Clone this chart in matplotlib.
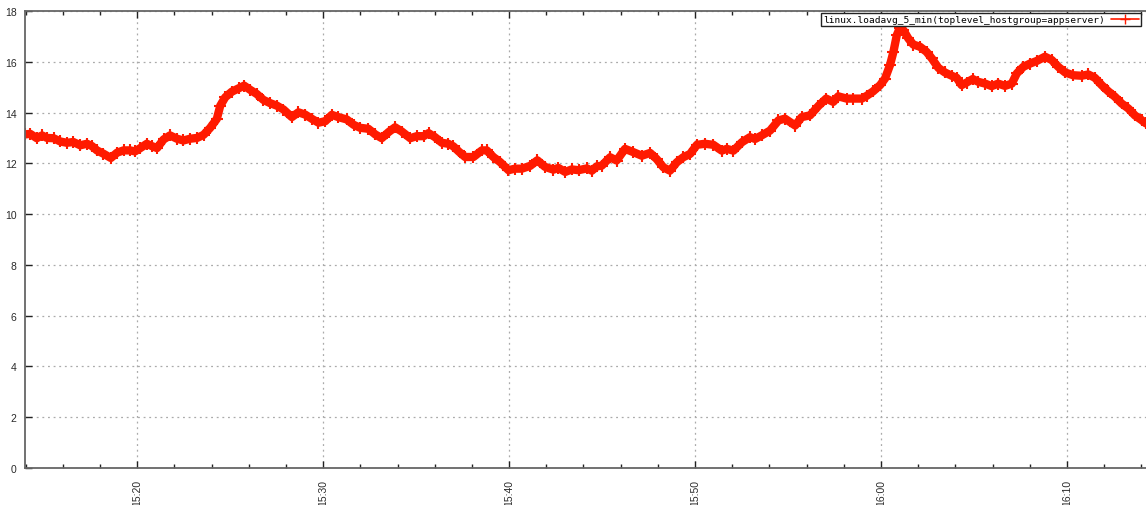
import pandas as pd
import matplotlib
matplotlib.use("Agg")
import matplotlib.pyplot as plt
import matplotlib.dates as mdates

# ---------------------------------
# Data: 5 minute load average, appserver hostgroup
# ---------------------------------

SERIES_NAME = "linux.loadavg_5_min(toplevel_hostgroup=appserver)"

times = [
    "15:13:58", "15:14:15", "15:14:36", "15:14:53", "15:15:09", "15:15:30", "15:15:52",
    "15:16:13", "15:16:34", "15:16:56", "15:17:18", "15:17:34", "15:17:50", "15:18:11",
    "15:18:35", "15:18:55", "15:19:16", "15:19:37", "15:19:53", "15:20:10", "15:20:31",
    "15:20:47", "15:21:04", "15:21:25", "15:21:46", "15:22:08", "15:22:29", "15:22:51",
    "15:23:13", "15:23:34", "15:23:55", "15:24:17", "15:24:28", "15:24:44", "15:25:05",
    "15:25:27", "15:25:45", "15:26:04", "15:26:26", "15:26:47", "15:27:09", "15:27:31",
    "15:27:52", "15:28:19", "15:28:40", "15:29:02", "15:29:24", "15:29:45", "15:30:07",
    "15:30:28", "15:30:49", "15:31:16", "15:31:38", "15:31:59", "15:32:26", "15:32:48",
    "15:33:09", "15:33:31", "15:33:52", "15:34:14", "15:34:41", "15:35:02", "15:35:24",
    "15:35:40", "15:36:01", "15:36:23", "15:36:44", "15:37:00", "15:37:17", "15:37:38",
    "15:38:05", "15:38:32", "15:38:48", "15:39:09", "15:39:31", "15:39:58", "15:40:19",
    "15:40:41", "15:41:08", "15:41:31", "15:41:56", "15:42:23", "15:42:39", "15:43:01",
    "15:43:22", "15:43:44", "15:44:11", "15:44:27", "15:44:43", "15:44:59", "15:45:26",
    "15:45:47", "15:46:14", "15:46:41", "15:47:08", "15:47:35", "15:47:56", "15:48:18",
    "15:48:39", "15:49:01", "15:49:22", "15:49:44", "15:50:06", "15:50:32", "15:50:59",
    "15:51:26", "15:51:42", "15:52:04", "15:52:31", "15:52:57", "15:53:14", "15:53:35",
    "15:54:02", "15:54:29", "15:54:50", "15:55:23", "15:55:44", "15:56:11", "15:56:38",
    "15:57:03", "15:57:26", "15:57:42", "15:58:09", "15:58:31", "15:58:58", "15:59:14",
    "15:59:35", "15:59:57", "16:00:13", "16:00:29", "16:00:40", "16:00:51", "16:01:01",
    "16:01:12", "16:01:28", "16:01:44", "16:02:06", "16:02:27", "16:02:44", "16:03:05",
    "16:03:26", "16:03:48", "16:04:04", "16:04:20", "16:04:36", "16:04:56", "16:05:14",
    "16:05:36", "16:05:57", "16:06:18", "16:06:40", "16:07:02", "16:07:18", "16:07:39",
    "16:08:01", "16:08:22", "16:08:49", "16:09:11", "16:09:32", "16:09:54", "16:10:20",
    "16:10:47", "16:11:09", "16:11:30", "16:11:52", "16:12:13", "16:12:35", "16:12:56",
    "16:13:18", "16:13:39", "16:14:01", "16:14:15",
]

loadavg = [
    13.14, 13.16, 12.99, 13.10, 13.00, 12.99, 12.86,
    12.81, 12.84, 12.71, 12.77, 12.68, 12.51, 12.38,
    12.21, 12.42, 12.51, 12.51, 12.47, 12.60, 12.77,
    12.68, 12.60, 12.94, 13.10, 12.97, 12.90, 12.97,
    13.00, 13.12, 13.39, 13.75, 14.27, 14.60, 14.82,
    14.95, 15.06, 14.90, 14.73, 14.50, 14.37, 14.27,
    14.12, 13.82, 14.01, 13.92, 13.75, 13.60, 13.66,
    13.91, 13.82, 13.73, 13.52, 13.40, 13.36, 13.14,
    12.99, 13.23, 13.42, 13.25, 12.99, 13.07, 13.07,
    13.19, 13.03, 12.81, 12.77, 12.67, 12.47, 12.25,
    12.25, 12.51, 12.51, 12.25, 12.05, 11.73, 11.79,
    11.79, 11.90, 12.12, 11.86, 11.75, 11.82, 11.66,
    11.76, 11.73, 11.80, 11.71, 11.88, 11.91, 12.24,
    12.11, 12.57, 12.44, 12.30, 12.41, 12.17, 11.84,
    11.71, 12.04, 12.24, 12.37, 12.73, 12.77, 12.73,
    12.50, 12.57, 12.50, 12.83, 13.03, 12.96, 13.10,
    13.29, 13.69, 13.76, 13.49, 13.82, 13.89, 14.26,
    14.55, 14.42, 14.64, 14.55, 14.55, 14.55, 14.66,
    14.84, 15.08, 15.34, 15.87, 16.39, 17.05, 17.34,
    17.25, 16.92, 16.68, 16.59, 16.39, 16.13, 15.76,
    15.58, 15.45, 15.37, 15.08, 15.18, 15.32, 15.21,
    15.14, 15.04, 15.14, 15.05, 15.14, 15.54, 15.80,
    15.93, 16.03, 16.20, 16.07, 15.80, 15.58, 15.47,
    15.45, 15.50, 15.37, 15.08, 14.84, 14.62, 14.36,
    14.16, 13.89, 13.70, 13.57,
]

y_ticks = [0, 2, 4, 6, 8, 10, 12, 14, 16, 18]

x_start = "15:13:58"
x_end = "16:14:15"

# ---------------------------------
# Build timestamps
# ---------------------------------

day = "2000-01-01 "
ts = pd.to_datetime([day + t for t in times])

# ---------------------------------
# Plot
# ---------------------------------

fig = plt.figure(figsize=(11.46, 5.06), dpi=100)
ax = fig.add_axes([25 / 1146, 37 / 506, 1121 / 1146, 457 / 506])

line_color = "#ff1a00"
ax.plot(
    ts, loadavg,
    color=line_color,
    linewidth=6,
    marker="+",
    markersize=8,
    markeredgewidth=1.5,
    solid_joinstyle="round",
    solid_capstyle="round",
    label=SERIES_NAME,
)

ax.set_xlim(pd.Timestamp(day + x_start), pd.Timestamp(day + x_end))
ax.set_ylim(0, 18)
ax.set_yticks(y_ticks)

ax.xaxis.set_major_locator(mdates.MinuteLocator(byminute=range(0, 60, 10)))
ax.xaxis.set_minor_locator(mdates.MinuteLocator(byminute=range(0, 60, 2)))
ax.xaxis.set_major_formatter(mdates.DateFormatter("%H:%M"))

ax.tick_params(axis="x", which="both", direction="in", top=True, bottom=True,
               color="#222222")
ax.tick_params(axis="x", which="major", length=5, width=1, labelsize=7.5,
               labelrotation=90, labelcolor="#2a2a2a", pad=8)
ax.tick_params(axis="x", which="minor", length=3, width=1)
ax.tick_params(axis="y", which="major", direction="in", length=5, width=1,
               labelsize=7.5, labelcolor="#2a2a2a", color="#222222", pad=6,
               right=False)
for lab in ax.get_xticklabels() + ax.get_yticklabels():
    lab.set_family("Liberation Sans")

ax.grid(True, which="major", linestyle=(0, (1.5, 3)), color="#aaaaaa", linewidth=0.9)

for side in ["left", "bottom", "top"]:
    ax.spines[side].set_color("#666666")
    ax.spines[side].set_linewidth(1.3)
ax.spines["right"].set_visible(False)

leg = ax.legend(
    loc="upper right",
    bbox_to_anchor=(0.9955, 0.995),
    markerfirst=False,
    fancybox=False,
    framealpha=1,
    edgecolor="#222222",
    borderpad=0.2,
    handlelength=3,
    handletextpad=0.6,
    borderaxespad=0,
    prop={"family": "DejaVu Sans Mono", "size": 6.8},
)
leg.get_frame().set_linewidth(1)
for h in leg.get_lines():
    h.set_linewidth(1.2)
    h.set_markersize(7)
    h.set_markeredgewidth(1)

fig.savefig("out.png", dpi=100)
